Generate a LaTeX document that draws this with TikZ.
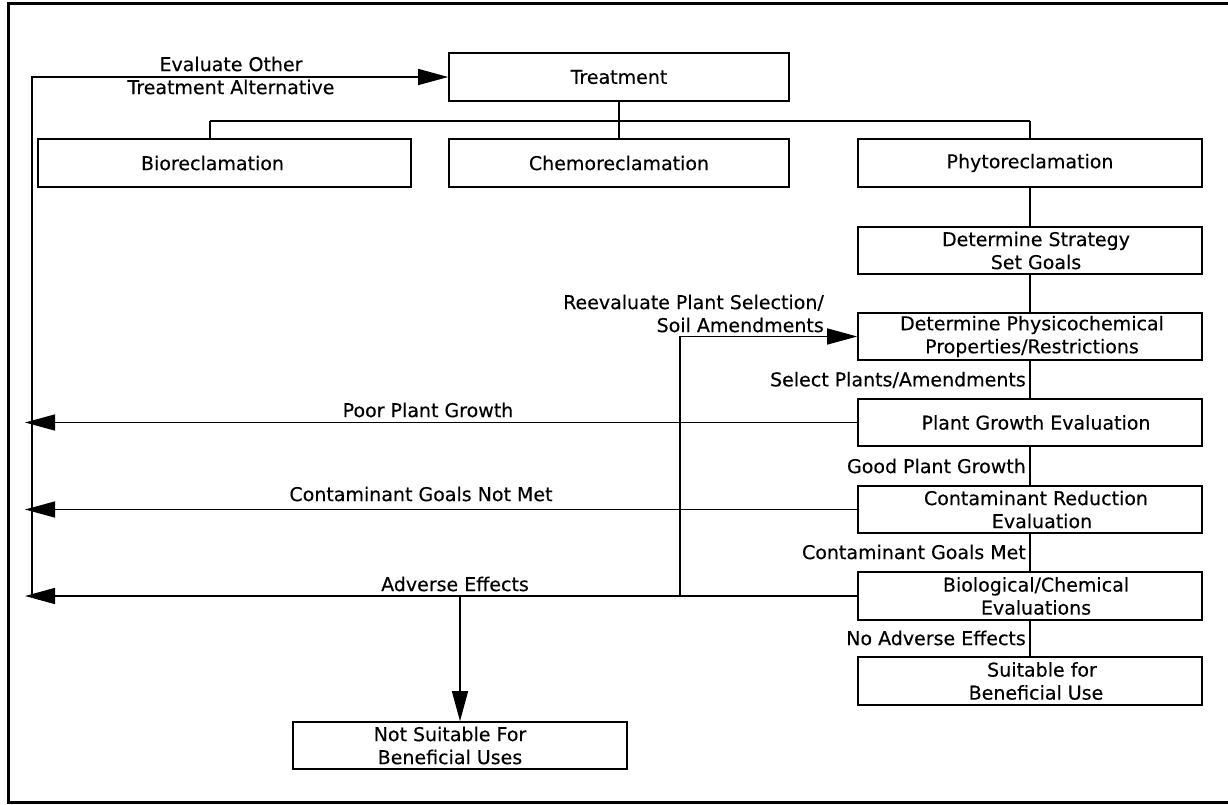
\documentclass[tikz,border=0pt]{standalone}
\usepackage{fontspec}
\setmainfont{DejaVu Sans}[FakeBold=0.3]
\usetikzlibrary{arrows.meta}
\newcommand\rsh{\hspace*{12pt}}
\begin{document}
\begin{tikzpicture}[x=1pt,y=-1pt,
  every node/.style={font=\fontsize{19}{23}\selectfont},
  box/.style={draw,line width=1.6pt,minimum height=47pt,inner sep=0pt,align=center},
  lbl/.style={inner sep=0pt,align=center},
  conn/.style={line width=1.4pt},
  arr/.style={line width=1.4pt,-{Triangle[length=30pt,width=16pt]}}
]
\useasboundingbox (0,0) rectangle (1228,805);
% frame
\draw[line width=3pt] (1228,4) -- (8,4) -- (8,802) -- (1228,802);

% boxes
\node[box,minimum width=340pt,minimum height=48pt] (treat) at (619,77) {Treatment};
\node[box,minimum width=373pt,minimum height=48pt] (bio) at (224.5,163) {Bioreclamation\hspace*{24pt}};
\node[box,minimum width=340pt,minimum height=48pt] (chemo) at (619,163) {Chemoreclamation};
\node[box,minimum width=344pt,minimum height=48pt] (phyto) at (1030,163) {Phytoreclamation};
\node[box,minimum width=344pt] (strat) at (1030,250.5) {\rsh Determine Strategy\\\rsh Set Goals};
\node[box,minimum width=344pt] (phys) at (1030,336.5) {\hspace*{4pt}Determine Physicochemical\\\hspace*{4pt}Properties/Restrictions};
\node[box,minimum width=344pt] (plant) at (1030,422.5) {\rsh Plant Growth Evaluation};
\node[box,minimum width=344pt] (contam) at (1030,509.5) {\rsh Contaminant Reduction\\\rsh\rsh Evaluation};
\node[box,minimum width=344pt,minimum height=48pt] (biochem) at (1030,596) {\rsh Biological/Chemical\\\rsh Evaluations};
\node[box,minimum width=344pt,minimum height=48pt] (suit) at (1030,681) {\rsh\rsh Suitable for\\\rsh Beneficial Use};
\node[box,minimum width=334pt] (notsuit) at (460,745.5) {Not Suitable For\hspace*{20pt}\\Beneficial Uses\hspace*{20pt}};

% tree
\coordinate (tl) at (210,121);
\coordinate (tr) at (1030,121);
\draw[conn] (tl) -- (tr);
\draw[conn] (tl) -- (tl |- bio.north);
\draw[conn] (tr) -- (phyto.north);
\draw[conn] (treat.south) -- (chemo.north);

% right column
\draw[conn] (phyto.south) -- (strat.north);
\draw[conn] (strat.south) -- (phys.north);
\draw[conn] (phys.south) -- (plant.north);
\draw[conn] (plant.south) -- (contam.north);
\draw[conn] (contam.south) -- (biochem.north);
\draw[conn] (biochem.south) -- (suit.north);

% left return lines
\coordinate (tip) at (25,0);
\coordinate (lv) at (32,0);
\coordinate (loop) at (680,0);
\draw[arr] (plant.west) -- (plant.west -| tip);
\draw[arr] (contam.west) -- (contam.west -| tip);
\draw[arr] (biochem.west) -- (biochem.west -| tip);
\draw[arr] (biochem.west -| lv) |- (treat.west);
\draw[arr] (biochem.west -| loop) |- (phys.west);
\draw[arr] (biochem.west -| notsuit.north) -- (notsuit.north);

% labels
\node[lbl] (levo) at (231,75.5) {Evaluate Other\\Treatment Alternative};
\node[lbl] (lpoor) at (428,410) {Poor Plant Growth};
\node[lbl] (lcnm) at (421,494) {Contaminant Goals Not Met};
\node[lbl] (ladv) at (455,584) {Adverse Effects};
\node[lbl,anchor=east,align=right] (lre) at (824,313.5) {Reevaluate Plant Selection/\\Soil Amendments};
\node[lbl,anchor=east] (lsel) at (1026,380) {Select Plants/Amendments};
\node[lbl,anchor=east] (lgood) at (1026,466) {Good Plant Growth};
\node[lbl,anchor=east] (lmet) at (1026,552) {Contaminant Goals Met};
\node[lbl,anchor=east] (lno) at (1026,638) {No Adverse Effects};
\end{tikzpicture}
\end{document}
